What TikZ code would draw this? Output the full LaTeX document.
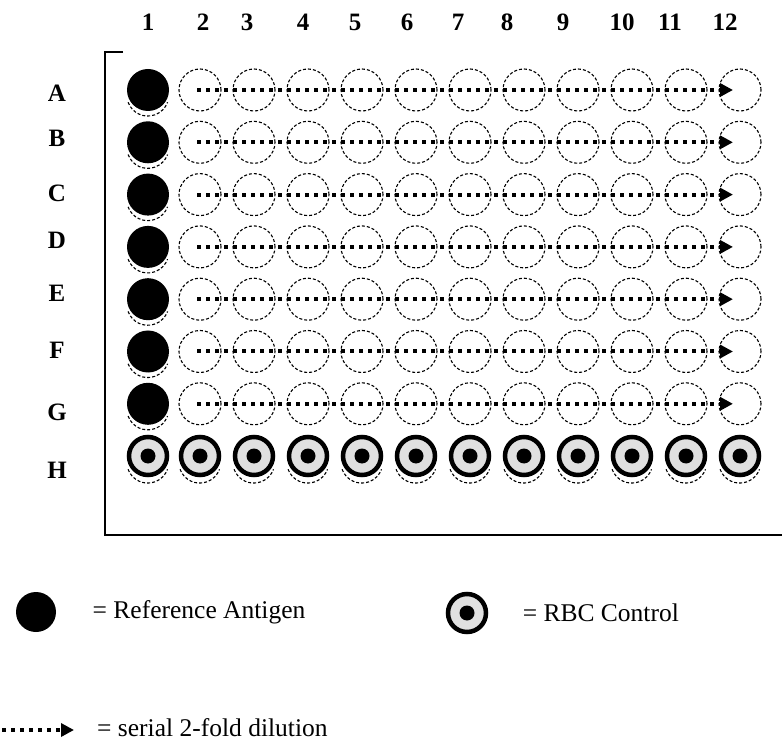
\documentclass[tikz,border=0pt]{standalone}
\usepackage{fontspec}
\setmainfont{Liberation Serif}
\usetikzlibrary{arrows.meta, positioning}

\begin{document}
\begin{tikzpicture}[
    x=1pt, y=-1pt,
    well/.style={circle, draw, densely dashed, line width=1.1pt, minimum size=42pt, inner sep=0pt},
    antigen/.style={circle, fill=black, minimum size=42pt, inner sep=0pt},
    control/.style={circle, draw, line width=4.5pt, fill=black!12, minimum size=38pt, inner sep=0pt},
    blob/.style={circle, fill=black, minimum size=15pt, inner sep=0pt},
    shade/.style={densely dashed, line width=1.1pt},
    dilution/.style={line width=4pt, dash pattern=on 4pt off 5pt, -{Triangle[length=13pt, width=13pt]}},
    rowlabel/.style={font=\fontsize{25}{27}\selectfont\bfseries},
    collabel/.style={font=\fontsize{25}{27}\selectfont\bfseries},
    legendtext/.style={font=\fontsize{25.5}{28}\selectfont},
]
\useasboundingbox[fill=white] (0,0) rectangle (782,743);

% Plate frame
\coordinate (frametop) at (105,52);
\coordinate (framecorner) at (105,535);
\coordinate (frameend) at (782,535);
\draw[line width=1.2pt] ([xshift=18pt]frametop) -- (frametop) -- (framecorner) -- (frameend);

% Column and row labels
\foreach \c/\x in {1/148,2/203,3/247,4/303,5/355,6/407,7/458,8/507,9/563,10/622,11/670,12/725}
  \node[collabel] (col-\c) at (\x,22) {\c};
\foreach \r/\y in {A/93,B/138,C/193,D/240,E/293,F/350,G/412,H/470}
  \node[rowlabel] (lab-\r) at (57,\y) {\r};

% Rows A-G: reference antigen, then serial dilution
\foreach \r [count=\i from 0] in {A,B,C,D,E,F,G} {
  \node[antigen] (w-\r-1) at (148,90+52.3*\i) {};
  \draw[shade] ([yshift=-5pt]w-\r-1.200) arc[start angle=200, end angle=340, radius=21pt];
  \foreach \c in {2,...,12}
    \node[well] (w-\r-\c) at (200+54*\c-108,90+52.3*\i) {};
  \draw[dilution] ([xshift=-3pt]w-\r-2.center) -- ([xshift=-7pt]w-\r-12.center);
}

% Row H: RBC control
\foreach \c in {1,...,12} {
  \pgfmathsetmacro\hx{\c==1 ? 148 : 200+54*(\c-2)}
  \node[control] (w-H-\c) at (\hx,456) {};
  \node[blob] (dot-H-\c) at (w-H-\c.center) {};
  \draw[shade] ([yshift=-6pt]w-H-\c.200) arc[start angle=200, end angle=340, radius=21pt];
}

% Key
\node[antigen, minimum size=40pt] (key-antigen) at (36,612) {};
\node[legendtext, right=33pt of key-antigen] (key-antigen-text) {= Reference Antigen};

\node[control] (key-control) at (467,613) {};
\node[blob] (key-control-dot) at (key-control.center) {};
\node[legendtext, right=31pt of key-control] (key-control-text) {= RBC Control};

\coordinate (key-start) at (2,730);
\coordinate (key-end) at (74,730);
\draw[dilution] (key-start) -- (key-end);
\node[legendtext, inner sep=1pt, right=22pt of key-end, yshift=2pt] (key-dilution-text) {= serial 2-fold dilution};
\end{tikzpicture}
\end{document}
